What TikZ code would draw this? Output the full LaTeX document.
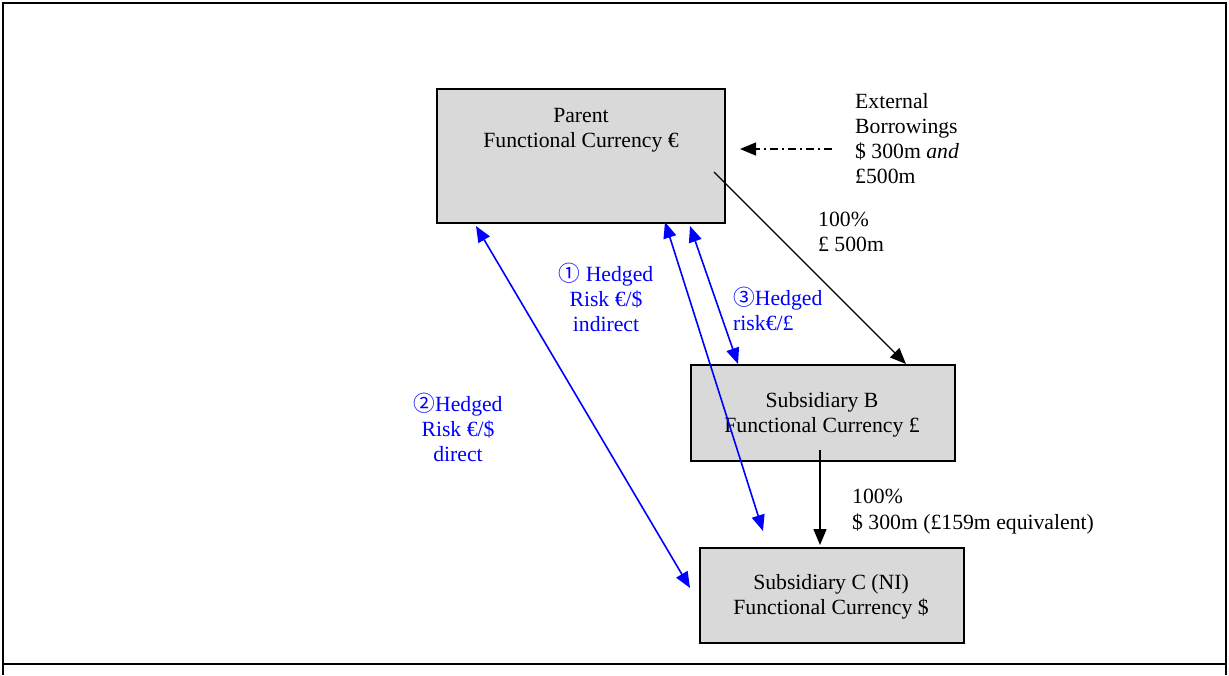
\documentclass[tikz,border=0pt]{standalone}
\usepackage{fontspec}
\setmainfont{Liberation Serif}
\newfontfamily\cjk{Noto Sans CJK SC}
\usetikzlibrary{arrows.meta}
\begin{document}
\begin{tikzpicture}[x=1pt,y=-1pt,
  font=\fontsize{21.7}{25}\selectfont,
  frame/.style={draw=black, line width=2.4pt},
  box/.style={draw=black, line width=2pt, fill=gray!30, anchor=north west, inner sep=0pt, align=center},
  txt/.style={inner sep=0pt, align=center},
  bluetxt/.style={inner sep=0pt, text=blue},
  blk/.style={draw=black, line width=1.4pt, -{Triangle[length=16pt,width=13pt]}},
  blu/.style={draw=blue, line width=1.6pt, {Triangle[length=16pt,width=13pt]}-{Triangle[length=16pt,width=13pt]}}
]
\useasboundingbox (0,0) rectangle (1229,675);
% frame
\draw[frame] (3,675) -- (3,3) -- (1226,3) -- (1226,675);
\draw[frame] (3,664) -- (1226,664);

% boxes
\node[box, minimum width=288pt, minimum height=134pt] (parent) at (436,88) {};
\node[txt] (parenttxt) at (581,130) {Parent\\Functional Currency €};
\node[box, minimum width=264pt, minimum height=96pt] (subb) at (690,364) {};
\node[txt] (subbtxt) at (822,415) {Subsidiary B\\Functional Currency £};
\node[box, minimum width=264pt, minimum height=95pt] (subc) at (699,547) {};
\node[txt] (subctxt) at (831,597) {Subsidiary C (NI)\\Functional Currency \$};

% external borrowings
\node[txt, anchor=west, align=left] (ext) at (855,139) {External\\Borrowings\\\$ 300m \textit{and}\\£500m};
\coordinate (dstart) at (832,149);
\coordinate (dend) at (740,149);
\draw[draw=black, line width=1.4pt, dash pattern=on 8pt off 4pt on 2pt off 4pt, -{Triangle[length=16pt,width=13pt]}] (dstart) -- (dend);

% black arrows
\coordinate (pb1) at (714,172);
\coordinate (pb2) at (906,364);
\draw[blk] (pb1) -- (pb2);
\node[txt, anchor=west, align=left] (lab1) at (818,232) {100\%\\£ 500m};

\coordinate (bc1) at (820,450);
\coordinate (bc2) at (820,545);
\draw[blk] (bc1) -- (bc2);
\node[txt, anchor=west, align=left, text depth=0pt] (lab2) at (852,509) {100\%\\[1pt]\$ 300m (£159m equivalent)};

% blue hedges
\coordinate (h2a) at (476,226);
\coordinate (h2b) at (690,588);
\draw[blu] (h2a) -- (h2b);
\coordinate (h1a) at (665,222);
\coordinate (h1b) at (763,531);
\draw[blu] (h1a) -- (h1b);
\coordinate (h3a) at (690,226);
\coordinate (h3b) at (738,364);
\draw[blu] (h3a) -- (h3b);

\node[bluetxt, align=center] (l1) at (606,297) {{\cjk ①} Hedged\\Risk €/\$\\indirect};
\node[bluetxt, align=left, anchor=west] (l3) at (733,309) {{\cjk ③}Hedged\\risk€/£};
\node[bluetxt, align=center] (l2) at (458,427) {{\cjk ②}Hedged\\Risk €/\$\\direct};
\end{tikzpicture}
\end{document}
